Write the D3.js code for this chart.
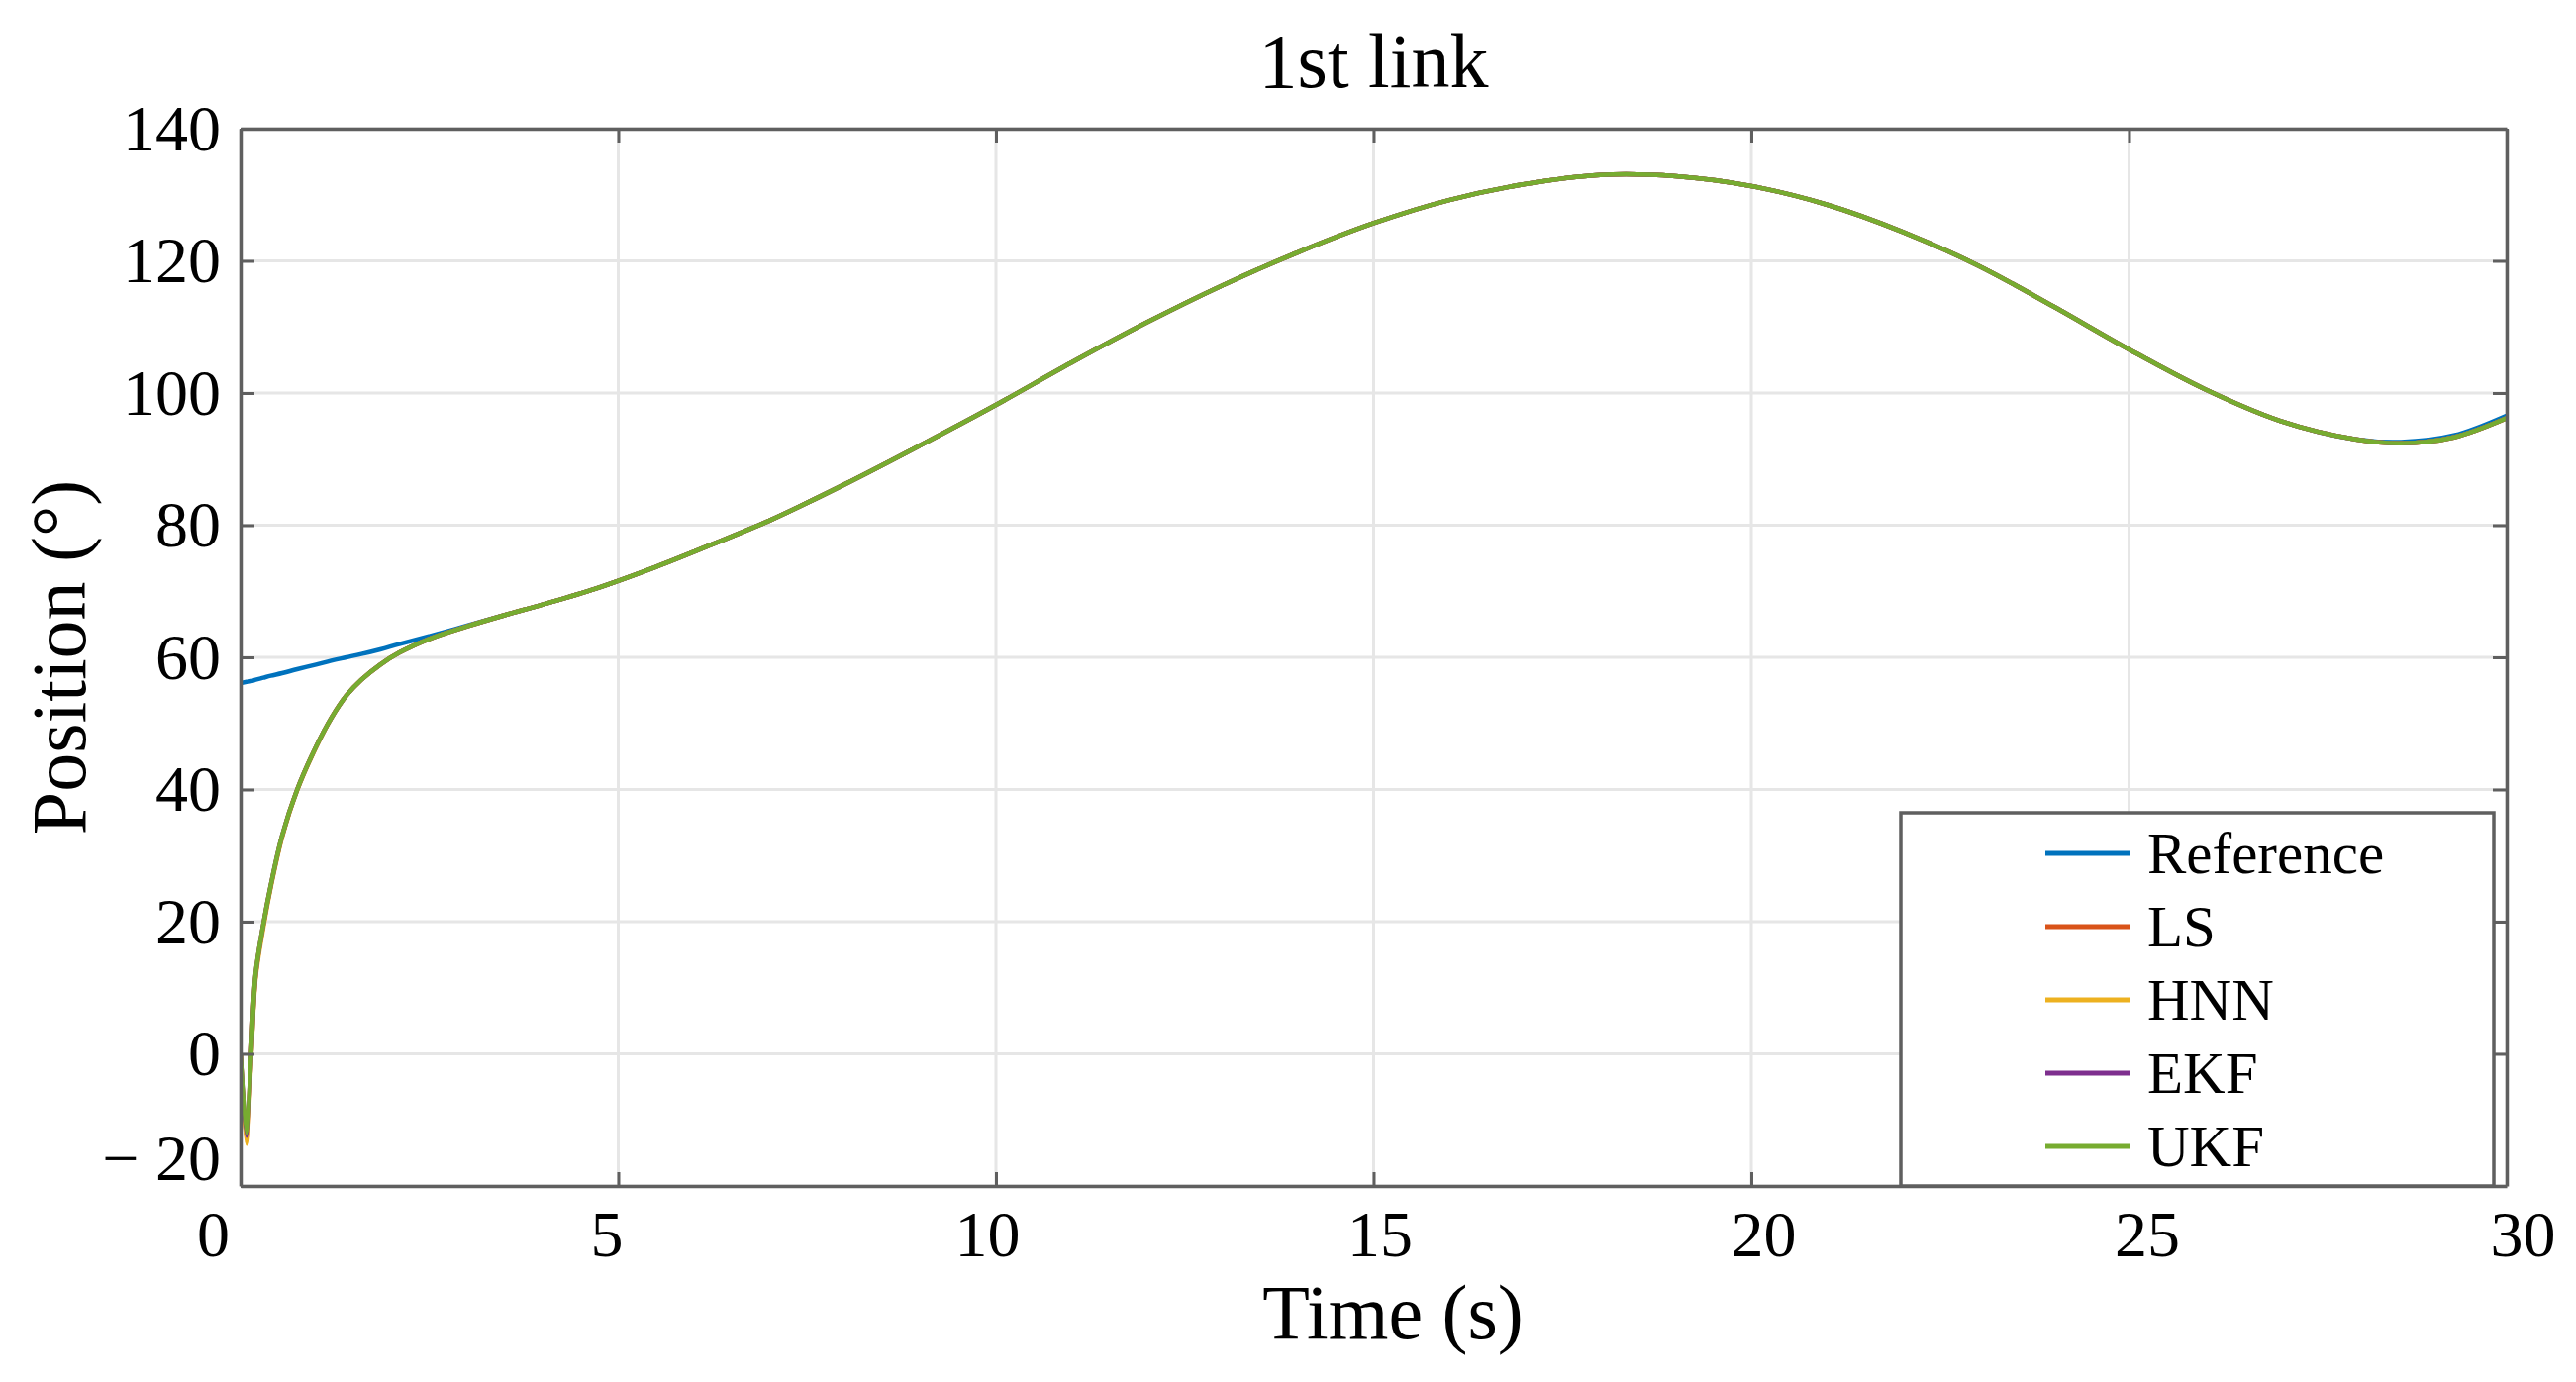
<!DOCTYPE html>
<html>
<head>
<meta charset="utf-8">
<script src="https://cdn.jsdelivr.net/npm/d3@7"></script>
<style>
body{margin:0;background:#fff;}
svg{display:block;}
</style>
</head>
<body>
<svg id="chart" width="2602" height="1396"></svg>
<script>
// values (time in s, position in degrees)
const timeS=[0,0.08,0.14,0.2,0.3,0.4,0.55,0.75,1.0,1.2,1.4,1.6,1.85,2.1,2.5,3.0,3.5,4.0,4.7,5.5,6.2,7.0,8,9,10,11,12,13,14,15,16,17,18,19,20,21,22,23,24,25,26,27,28,28.6,29.3,30];
const reference=[56.1,56.3,56.4,56.6,56.9,57.2,57.6,58.2,58.9,59.5,60.0,60.5,61.2,62.0,63.2,64.8,66.4,68.0,70.4,73.7,76.9,80.7,86.2,92.1,98.2,104.6,110.7,116.3,121.3,125.7,129.2,131.6,133.0,132.8,131.3,128.5,124.4,119.3,113.1,106.6,100.6,95.8,93.0,92.6,93.6,96.6];
const ls=[0,-13.2,0,12.0,19.4,25.4,32.9,40.0,46.5,50.8,54.2,56.6,58.9,60.7,62.8,64.7,66.4,68.0,70.4,73.7,76.9,80.7,86.2,92.1,98.2,104.6,110.7,116.3,121.3,125.7,129.2,131.6,133.0,132.8,131.3,128.5,124.4,119.3,113.1,106.6,100.6,95.8,93.0,92.4,93.3,96.2];
const hnn=[0,-13.6,-0.5,11.6,19.0,25.2,32.8,39.9,46.4,50.8,54.2,56.6,58.9,60.7,62.8,64.7,66.4,68.0,70.4,73.7,76.9,80.7,86.2,92.1,98.2,104.6,110.7,116.3,121.3,125.7,129.2,131.6,133.0,132.8,131.3,128.5,124.4,119.3,113.1,106.6,100.6,95.8,93.0,92.4,93.3,96.2];
const ekf=[0,-12.4,0,12.1,19.5,25.5,33.0,40.0,46.5,50.8,54.2,56.6,58.9,60.7,62.8,64.7,66.4,68.0,70.4,73.7,76.9,80.7,86.2,92.1,98.2,104.6,110.7,116.3,121.3,125.7,129.2,131.6,133.0,132.8,131.3,128.5,124.4,119.3,113.1,106.6,100.6,95.8,93.0,92.4,93.3,96.2];
const ukf=[0,-12.0,0,12.2,19.5,25.5,33.0,40.0,46.5,50.8,54.2,56.6,58.9,60.7,62.8,64.7,66.4,68.0,70.4,73.7,76.9,80.7,86.2,92.1,98.2,104.6,110.7,116.3,121.3,125.7,129.2,131.6,133.0,132.8,131.3,128.5,124.4,119.3,113.1,106.6,100.6,95.8,93.0,92.4,93.3,96.2];

const seriesNames=["Reference","LS","HNN","EKF","UKF"];
const seriesColors=["#0072BD","#D95319","#EDB120","#7E2F8E","#77AC30"];
const xTicks=[0,5,10,15,20,25,30];
const yTicks=[-20,0,20,40,60,80,100,120,140];

let allSeries=[reference,ls,hnn,ekf,ukf];
let font="Liberation Serif, Times New Roman, serif";

let svg=d3.select("#chart");
let m={left:243,right:2532,top:130,bottom:1198};

let x=d3.scaleLinear().domain([0,30]).range([m.left,m.right]);
let y=d3.scaleLinear().domain([-20,140]).range([m.bottom,m.top]);

svg.append("clipPath").attr("id","plotclip").append("rect")
  .attr("x",m.left).attr("y",m.top).attr("width",m.right-m.left).attr("height",m.bottom-m.top);

// grid
let grid=svg.append("g");
grid.selectAll(".gx").data(xTicks).join("line")
  .attr("x1",d=>x(d)).attr("x2",d=>x(d)).attr("y1",m.top).attr("y2",m.bottom)
  .attr("stroke","#e6e6e6").attr("stroke-width",3);
grid.selectAll(".gy").data(yTicks).join("line")
  .attr("y1",d=>y(d)).attr("y2",d=>y(d)).attr("x1",m.left).attr("x2",m.right)
  .attr("stroke","#e6e6e6").attr("stroke-width",3);

// curves
let line=d3.line().x((d,i)=>x(timeS[i])).y(d=>y(d)).curve(d3.curveCatmullRom.alpha(0.5));
svg.append("g").attr("clip-path","url(#plotclip)")
  .selectAll("path").data(allSeries).join("path")
  .attr("d",d=>line(d))
  .attr("fill","none")
  .attr("stroke",(d,i)=>seriesColors[i])
  .attr("stroke-width",4.5)
  .attr("stroke-linejoin","round");

// axes (box with inward ticks, MATLAB style)
let axCol="#5f5f5f";
let fmtY=d=>d<0?"\u2212 "+Math.abs(d):d;

let gx=svg.append("g").attr("transform",`translate(0,${m.bottom})`)
  .call(d3.axisBottom(x).tickValues(xTicks).tickSize(-14).tickSizeOuter(0).tickPadding(24));
let gxt=svg.append("g").attr("transform",`translate(0,${m.top})`)
  .call(d3.axisTop(x).tickValues(xTicks).tickSize(-14).tickSizeOuter(0).tickFormat(""));
let gy=svg.append("g").attr("transform",`translate(${m.left},0)`)
  .call(d3.axisLeft(y).tickValues(yTicks).tickSize(-14).tickSizeOuter(0).tickPadding(20).tickFormat(fmtY));
let gyr=svg.append("g").attr("transform",`translate(${m.right},0)`)
  .call(d3.axisRight(y).tickValues(yTicks).tickSize(-14).tickSizeOuter(0).tickFormat(""));

[gx,gxt,gy,gyr].forEach(g=>{
  g.select(".domain").attr("stroke",axCol).attr("stroke-width",3.5);
  g.selectAll(".tick line").attr("stroke",axCol).attr("stroke-width",3);
  g.selectAll(".tick text").style("font",`66px ${font}`).attr("fill","#000");
});
// x labels in the original are spread a bit wider than their ticks
let xNudge=[-28,-12,-9,6,12,18,16];
gx.selectAll(".tick text").attr("dx",(d,i)=>xNudge[i]);
// the -20 label sits a little higher than its tick
gy.selectAll(".tick text").filter(d=>d==-20).attr("dy","-0.1em");

// titles
svg.append("text").text("1st link").attr("x",(m.left+m.right)/2).attr("y",88)
  .attr("text-anchor","middle").style("font",`78px ${font}`);
svg.append("text").text("Time (s)").attr("x",1407).attr("y",1352)
  .attr("text-anchor","middle").style("font",`78px ${font}`);
svg.append("text").text("Position (\u00b0)").attr("transform","translate(86,664) rotate(-90)")
  .attr("text-anchor","middle").style("font",`78px ${font}`);

// legend
let leg=svg.append("g").attr("id","legend");
leg.append("rect").attr("x",1920).attr("y",821).attr("width",599).attr("height",377)
  .attr("fill","#fff").attr("stroke",axCol).attr("stroke-width",3.5);
for(let i=0;i<seriesNames.length;i++){
  let ly=862+i*74;
  leg.append("line").attr("x1",2066).attr("x2",2151).attr("y1",ly).attr("y2",ly)
    .attr("stroke",seriesColors[i]).attr("stroke-width",5);
  leg.append("text").text(seriesNames[i]).attr("x",2169).attr("y",ly)
    .attr("dominant-baseline","central").style("font",`59px ${font}`);
}
</script>
</body>
</html>
